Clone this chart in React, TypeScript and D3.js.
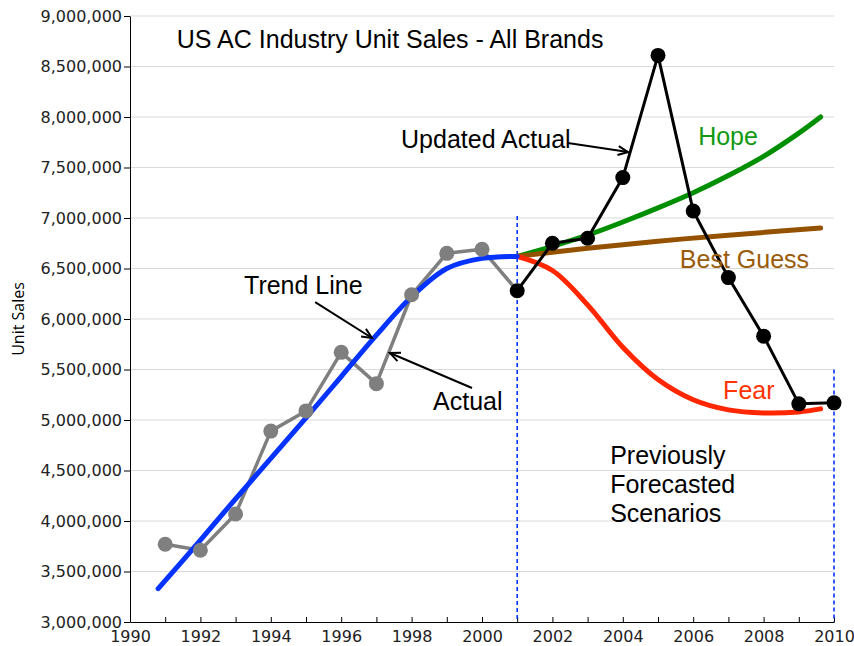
import React, { useEffect, useRef } from "react";
import * as d3 from "d3";

// actual unit sales (millions)
const actualYears = [1991, 1992, 1993, 1994, 1995, 1996, 1997, 1998, 1999, 2000, 2001];
const actualValues = [3.77, 3.71, 4.07, 4.89, 5.09, 5.67, 5.36, 6.24, 6.65, 6.69, 6.28];

const updatedYears = [2001, 2002, 2003, 2004, 2005, 2006, 2007, 2008, 2009, 2010];
const updatedValues = [6.28, 6.75, 6.8, 7.4, 8.61, 7.07, 6.41, 5.83, 5.16, 5.17];

const trendYears = [1990.8, 1992, 1993, 1994, 1995, 1996, 1997, 1998, 1999, 2000, 2001];
const trendValues = [3.33, 3.81, 4.22, 4.62, 5.02, 5.43, 5.84, 6.22, 6.5, 6.6, 6.62];

const hopeYears = [2001, 2002, 2003, 2004, 2005, 2006, 2007, 2008, 2009, 2009.62];
const hopeValues = [6.62, 6.72, 6.83, 6.96, 7.1, 7.25, 7.42, 7.61, 7.84, 8.0];

const guessYears = [2001, 2003, 2005, 2007, 2009.62];
const guessValues = [6.62, 6.7, 6.77, 6.83, 6.9];

const fearYears = [2001, 2002, 2003, 2004, 2005, 2006, 2007, 2008, 2009, 2009.62];
const fearValues = [6.62, 6.48, 6.14, 5.72, 5.4, 5.2, 5.1, 5.07, 5.08, 5.11];

const yTicks = d3.range(3, 9.01, 0.5);

const App: React.FC = () => {
  const ref = useRef<SVGSVGElement>(null);

  useEffect(() => {
    const svg = d3.select(ref.current);
    svg.selectAll("*").remove();

    const x = d3.scaleLinear().domain([1990, 2010]).range([130, 834]);
    const y = d3.scaleLinear().domain([3, 9]).range([622, 16]);

    const num = "'DejaVu Sans', Verdana, sans-serif";
    const sans = "'Liberation Sans', Arial, Helvetica, sans-serif";

    // grid
    svg.append("g")
      .selectAll("line")
      .data(yTicks.filter((d) => d > 3))
      .enter()
      .append("line")
      .attr("x1", x(1990))
      .attr("x2", x(2010))
      .attr("y1", (d) => y(d))
      .attr("y2", (d) => y(d))
      .attr("stroke", "#d9d9d9")
      .attr("stroke-width", 1.2);

    // axes
    const yAxis = svg.append("g")
      .attr("transform", `translate(${x(1990)},0)`)
      .call(
        d3.axisLeft(y)
          .tickValues(yTicks)
          .tickSizeInner(6)
          .tickSizeOuter(0)
          .tickPadding(2)
          .tickFormat((d) => d3.format(",")(Math.round(+d * 1e6)))
      );
    yAxis.selectAll("text").attr("font-family", num).attr("font-size", 16).attr("fill", "#222");

    const xAxis = svg.append("g")
      .attr("transform", `translate(0,${y(3)})`)
      .call(
        d3.axisBottom(x)
          .tickValues(d3.range(1990, 2011, 1))
          .tickSizeInner(-5)
          .tickSizeOuter(0)
          .tickPadding(9)
          .tickFormat((d) => (+d % 2 === 0 ? String(d) : ""))
      );
    xAxis.selectAll("text").attr("font-family", num).attr("font-size", 16).attr("fill", "#222");
    svg.selectAll(".domain, .tick line").attr("stroke", "#000");

    svg.append("text")
      .attr("transform", `translate(24,${y(6)}) rotate(-90)`)
      .attr("text-anchor", "middle")
      .attr("font-family", "'Open Sans', 'DejaVu Sans', sans-serif")
      .attr("font-size", 16)
      .text("Unit Sales");

    // forecast markers
    const dashed = [
      { year: 2001, top: 7.02 },
      { year: 2010, top: 5.5 },
    ];
    svg.selectAll(".dash")
      .data(dashed)
      .enter()
      .append("line")
      .attr("x1", (d) => x(d.year))
      .attr("x2", (d) => x(d.year))
      .attr("y1", (d) => y(d.top))
      .attr("y2", y(3))
      .attr("stroke", "#0433ff")
      .attr("stroke-width", 1.6)
      .attr("stroke-dasharray", "4,3");

    const curve = (xs: number[], vs: number[], color: string, w: number) => {
      const pts = xs.map((d, i) => [d, vs[i]] as [number, number]);
      const line = d3.line<[number, number]>()
        .x((d) => x(d[0]))
        .y((d) => y(d[1]))
        .curve(d3.curveCatmullRom.alpha(0.5));
      svg.append("path")
        .attr("d", line(pts))
        .attr("fill", "none")
        .attr("stroke", color)
        .attr("stroke-width", w)
        .attr("stroke-linecap", "round");
    };

    const straight = (xs: number[], vs: number[], color: string, w: number) => {
      const pts = xs.map((d, i) => [d, vs[i]] as [number, number]);
      const line = d3.line<[number, number]>().x((d) => x(d[0])).y((d) => y(d[1]));
      svg.append("path")
        .attr("d", line(pts))
        .attr("fill", "none")
        .attr("stroke", color)
        .attr("stroke-width", w)
        .attr("stroke-linejoin", "round");
    };

    const dots = (xs: number[], vs: number[], color: string, r: number) => {
      svg.append("g")
        .selectAll("circle")
        .data(xs)
        .enter()
        .append("circle")
        .attr("cx", (d) => x(d))
        .attr("cy", (d, i) => y(vs[i]))
        .attr("r", r)
        .attr("fill", color);
    };

    curve(hopeYears, hopeValues, "#008f00", 5);
    curve(guessYears, guessValues, "#945200", 5);
    curve(fearYears, fearValues, "#ff2600", 5);

    straight(actualYears, actualValues, "#7f7f7f", 3.5);
    curve(trendYears, trendValues, "#0433ff", 5);
    dots(actualYears.slice(0, -1), actualValues, "#7f7f7f", 7.5);

    straight(updatedYears, updatedValues, "#000", 3);
    dots(updatedYears, updatedValues, "#000", 7.5);

    // annotations
    const labels = [
      { t: "US AC Industry Unit Sales - All Brands", yr: 1991.33, v: 8.683, c: "#000" },
      { t: "Updated Actual", yr: 1997.7, v: 7.693, c: "#000" },
      { t: "Hope", yr: 2006.14, v: 7.723, c: "#119911" },
      { t: "Best Guess", yr: 2005.62, v: 6.505, c: "#9a5c0a" },
      { t: "Fear", yr: 2006.85, v: 5.208, c: "#ff3300" },
      { t: "Trend Line", yr: 1993.24, v: 6.248, c: "#000" },
      { t: "Actual", yr: 1998.61, v: 5.099, c: "#000" },
      { t: "Previously", yr: 2003.64, v: 4.564, c: "#000" },
      { t: "Forecasted", yr: 2003.64, v: 4.277, c: "#000" },
      { t: "Scenarios", yr: 2003.64, v: 3.99, c: "#000" },
    ];
    svg.selectAll(".lbl")
      .data(labels)
      .enter()
      .append("text")
      .attr("x", (d) => x(d.yr))
      .attr("y", (d) => y(d.v))
      .attr("font-family", sans)
      .attr("font-size", 25)
      .attr("fill", (d) => d.c)
      .text((d) => d.t);

    const arrows = [
      { x0: 2002.44, v0: 7.743, x1: 2004.15, v1: 7.653 },
      { x0: 1995.26, v0: 6.168, x1: 1996.875, v1: 5.812 },
      { x0: 1999.716, v0: 5.317, x1: 1997.386, v1: 5.663 },
    ];
    arrows.forEach((a) => {
      const sx = x(a.x0), sy = y(a.v0), ex = x(a.x1), ey = y(a.v1);
      const ang = Math.atan2(ey - sy, ex - sx);
      const len = 11, spread = 0.42;
      const p1 = [ex - len * Math.cos(ang - spread), ey - len * Math.sin(ang - spread)];
      const p2 = [ex - len * Math.cos(ang + spread), ey - len * Math.sin(ang + spread)];
      svg.append("line")
        .attr("x1", sx).attr("y1", sy).attr("x2", ex).attr("y2", ey)
        .attr("stroke", "#000").attr("stroke-width", 2);
      svg.append("path")
        .attr("d", `M${p1[0]},${p1[1]}L${ex},${ey}L${p2[0]},${p2[1]}`)
        .attr("fill", "none").attr("stroke", "#000").attr("stroke-width", 2);
    });
  }, []);

  return (
    <svg
      ref={ref}
      width={854}
      height={646}
      style={{ position: "absolute", left: 0, top: 0, background: "#fff" }}
    />
  );
};

export default App;
